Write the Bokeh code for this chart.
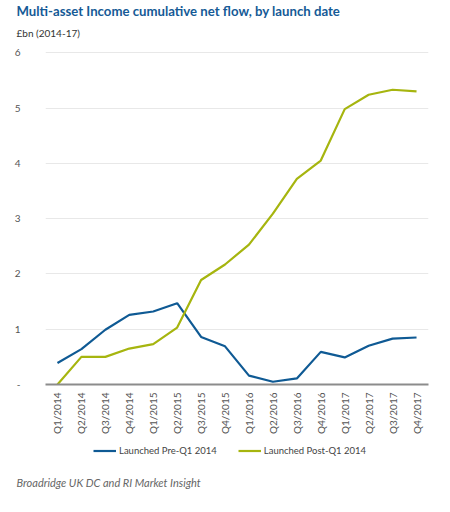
import math
from bokeh.plotting import figure
from bokeh.layouts import column
from bokeh.models import Title, Legend, LegendItem, FixedTicker, ColumnDataSource
from bokeh.embed import file_html
from bokeh.resources import INLINE

quarters = ["Q1/2014", "Q2/2014", "Q3/2014", "Q4/2014",
            "Q1/2015", "Q2/2015", "Q3/2015", "Q4/2015",
            "Q1/2016", "Q2/2016", "Q3/2016", "Q4/2016",
            "Q1/2017", "Q2/2017", "Q3/2017", "Q4/2017"]
pre_q1_2014 = [0.39, 0.64, 0.99, 1.26, 1.32, 1.47, 0.86, 0.69,
               0.16, 0.05, 0.11, 0.59, 0.49, 0.70, 0.83, 0.85]
post_q1_2014 = [0.00, 0.50, 0.50, 0.65, 0.73, 1.03, 1.89, 2.17,
                2.53, 3.09, 3.72, 4.05, 4.98, 5.24, 5.33, 5.30]
y_ticks = [0, 1, 2, 3, 4, 5, 6]
y_tick_labels = {0: "-", 1: "1", 2: "2", 3: "3", 4: "4", 5: "5", 6: "6"}
series_names = ["Launched Pre-Q1 2014", "Launched Post-Q1 2014"]
title_text = "Multi-asset Income cumulative net flow, by launch date"
subtitle_text = "£bn (2014-17)"
source_text = "Broadridge  UK DC and RI Market  Insight"

BLUE = "#0f5a94"
GREEN = "#a6b50f"
FONT = "Lato"
W = 446
LEFT = 45
RIGHT = W - 428


def text_strip(height, text, size, color, style):
    s = figure(width=W, height=height, x_range=(0, 1), y_range=(0, 1),
               output_backend="svg", toolbar_location=None,
               x_axis_location=None, y_axis_location=None,
               min_border_left=LEFT, min_border_right=RIGHT, min_border_top=0,
               min_border_bottom=0, outline_line_color=None)
    s.grid.visible = False
    s.add_layout(Title(text=text, align="left", text_font=FONT,
                       text_font_style=style, text_font_size=size,
                       text_color=color, offset=16 - LEFT, standoff=0), "above")
    return s


src = ColumnDataSource(dict(q=quarters, pre=pre_q1_2014, post=post_q1_2014))

# title + subtitle strips
H0a, H0b = 24, 20
p0a = text_strip(H0a, title_text, "13.2px", "#155a96", "bold")
p0b = text_strip(H0b, subtitle_text, "10px", "#333333", "normal")

# main chart
H1 = 437 - H0a - H0b
p = figure(width=W, height=H1, x_range=quarters, y_range=(0, 6.04),
           output_backend="svg", toolbar_location=None,
           min_border_left=LEFT, min_border_right=RIGHT,
           min_border_top=50 - H0a - H0b,
           min_border_bottom=0, outline_line_color=None)

p.line("q", "pre", source=src, line_color=BLUE, line_width=2.2)
p.line("q", "post", source=src, line_color=GREEN, line_width=2.2)

p.yaxis.ticker = FixedTicker(ticks=y_ticks)
p.yaxis.major_label_overrides = y_tick_labels
p.yaxis.axis_line_color = None
p.yaxis.major_tick_line_color = None
p.yaxis.minor_tick_line_color = None
p.yaxis.major_label_text_color = "#555555"
p.yaxis.major_label_text_font = FONT
p.yaxis.major_label_text_font_size = "10px"
p.yaxis.major_label_standoff = 19

p.xaxis.axis_line_color = "#8c8c8c"
p.xaxis.axis_line_width = 2
p.xaxis.major_tick_line_color = None
p.xaxis.minor_tick_line_color = None
p.xaxis.major_label_orientation = math.pi / 2
p.xaxis.major_label_text_color = "#555555"
p.xaxis.major_label_text_font = FONT
p.xaxis.major_label_text_font_size = "10px"
p.xaxis.major_label_standoff = 2

p.xgrid.grid_line_color = None
p.ygrid.grid_line_color = "#e8e8e8"
p.ygrid.grid_line_width = 1.2

# legend strip (its sample lines fall outside its visible range)
H2 = 36
p2 = figure(width=W, height=H2, x_range=quarters, y_range=(100, 101),
            output_backend="svg", toolbar_location=None,
            x_axis_location=None, y_axis_location=None,
            min_border_left=LEFT, min_border_right=RIGHT, min_border_top=0,
            min_border_bottom=0, outline_line_color=None)
p2.grid.visible = False
lr1 = p2.line("q", "pre", source=src, line_color=BLUE, line_width=2.2)
lr2 = p2.line("q", "post", source=src, line_color=GREEN, line_width=2.2)

legend = Legend(items=[LegendItem(label=series_names[0], renderers=[lr1]),
                       LegendItem(label=series_names[1], renderers=[lr2])],
                orientation="horizontal", location=(48, H2 - 20),
                label_text_font=FONT, label_text_font_size="9.5px",
                label_text_color="#444444", border_line_color=None,
                background_fill_alpha=0, glyph_width=23, glyph_height=13,
                label_height=13, spacing=21,
                label_standoff=3, padding=2, margin=0)
p2.add_layout(legend, "center")

# source strip
H3 = 508 - 437 - H2
p3 = text_strip(H3, source_text, "11px", "#666666", "italic")

open("out.html", "w").write(
    file_html(column(p0a, p0b, p, p2, p3, spacing=0), INLINE))
